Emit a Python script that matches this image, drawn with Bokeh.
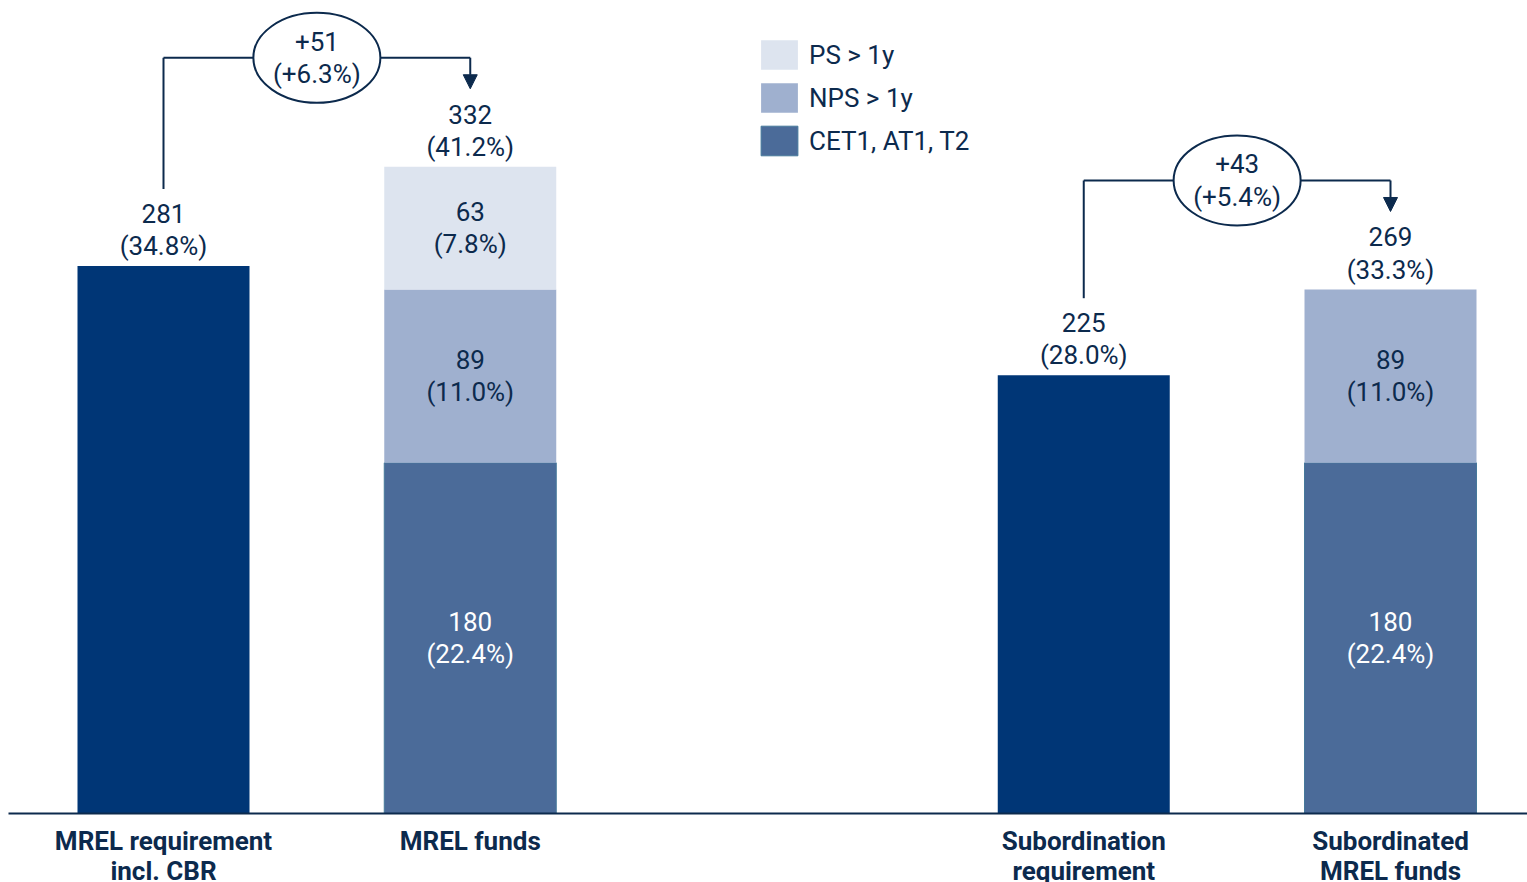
from bokeh.plotting import figure
from bokeh.models import ColumnDataSource, Range1d, Legend, LegendItem, Arrow, NormalHead
from bokeh.core.properties import value
from bokeh.embed import file_html
from bokeh.resources import INLINE

# ---------------- data ----------------
categories = ["MREL requirement\nincl. CBR", "MREL funds",
              "Subordination\nrequirement", "Subordinated\nMREL funds"]
req_values = [281, 225]
req_share = ["34.8%", "28.0%"]
cet1 = [180, 180]
cet1_share = ["22.4%", "22.4%"]
nps = [89, 89]
nps_share = ["11.0%", "11.0%"]
ps = [63, 0]
ps_share = ["7.8%", ""]
fund_share = ["41.2%", "33.3%"]
delta = ["+51", "+43"]
delta_share = ["+6.3%", "+5.4%"]
series_names = ["PS > 1y", "NPS > 1y", "CET1, AT1, T2"]

# ---------------- layout / style ----------------
W, H = 1527, 882
PX_PER_UNIT = 1.948
U = 1.0 / PX_PER_UNIT
BASE_PX = 813
SLOT_PX = 306.75
FIRST_CENTER_PX = 163
BW = 172 / SLOT_PX
x_req = [0, 3]
x_fund = [1, 4]
x_cat = [0, 1, 3, 4]
X0 = -FIRST_CENTER_PX / SLOT_PX
X1 = (W - FIRST_CENTER_PX) / SLOT_PX

NAVY = "#0c2a4d"
REQ_C = "#003676"
CET1_C = "#4b6b99"
NPS_C = "#9fb0cf"
PS_C = "#dde4ef"
FONT = value("Roboto")
FS = "26px"

p = figure(width=W, height=H,
           x_range=Range1d(X0, X1),
           y_range=Range1d(-(H - BASE_PX) * U, BASE_PX * U),
           output_backend="svg", toolbar_location=None,
           x_axis_location=None, y_axis_location=None,
           min_border=0, outline_line_color=None)
p.grid.visible = False

# bars
p.vbar(x=x_req, top=req_values, width=BW, fill_color=REQ_C, line_color=None)
nps_top = [a + b for a, b in zip(cet1, nps)]
ps_top = [a + b for a, b in zip(nps_top, ps)]
r_cet1 = p.vbar(x=x_fund, bottom=0, top=cet1, width=BW, fill_color=CET1_C,
                line_color="#46799b", line_width=1)
r_nps = p.vbar(x=x_fund, bottom=cet1, top=nps_top, width=BW, fill_color=NPS_C, line_color=None)
r_ps = p.vbar(x=x_fund, bottom=nps_top, top=ps_top, width=BW, fill_color=PS_C, line_color=None)

# baseline
p.segment(x0=[X0 + 8 / SLOT_PX], y0=[0], x1=[X1], y1=[0], line_color=NAVY, line_width=2)

txt = dict(text_font=FONT, text_font_size=FS, text_align="center",
           text_baseline="middle", text_line_height=1.08)

# total labels above bars
top_x = x_req + x_fund
top_vals = req_values + ps_top
top_share = req_share + fund_share
p.text(x=top_x, y=[v + 36 * U for v in top_vals],
       text=[f"{v}\n({s})" for v, s in zip(top_vals, top_share)],
       text_color=NAVY, **txt)

# segment labels
seg_x, seg_y, seg_t, seg_c = [], [], [], []
for i, x in enumerate(x_fund):
    segs = [(0, cet1[i], cet1_share[i], "white"),
            (cet1[i], nps_top[i], nps_share[i], NAVY),
            (nps_top[i], ps_top[i], ps_share[i], NAVY)]
    for b, t, s, c in segs:
        if t - b > 0:
            seg_x.append(x)
            seg_y.append((b + t) / 2)
            seg_t.append(f"{t - b}\n({s})")
            seg_c.append(c)
p.text(x=seg_x, y=seg_y, text=seg_t, text_color=seg_c, **txt)

# category labels
p.text(x=x_cat, y=[-12 * U] * 4, text=categories, text_font=FONT, text_font_size="26px",
       text_font_style="bold", text_align="center", text_baseline="top",
       text_line_height=1.03, text_color=NAVY)

# brackets
bracket_y = [max(r, f) + 109 * U for r, f in zip(req_values, ps_top)]
p.segment(x0=x_req, y0=[v + 77 * U for v in req_values], x1=x_req, y1=bracket_y,
          line_color=NAVY, line_width=2)
p.segment(x0=x_req, y0=bracket_y, x1=x_fund, y1=bracket_y, line_color=NAVY, line_width=2)
arrow_src = ColumnDataSource(dict(xs=x_fund, ys=bracket_y, xe=x_fund,
                                  ye=[v + 78 * U for v in ps_top]))
p.add_layout(Arrow(end=NormalHead(size=14, fill_color=NAVY, line_color=NAVY),
                   x_start="xs", y_start="ys", x_end="xe", y_end="ye",
                   source=arrow_src, line_color=NAVY, line_width=2))
mid_x = [(a + b) / 2 for a, b in zip(x_req, x_fund)]
p.ellipse(x=mid_x, y=bracket_y, width=127, height=90, width_units="screen",
          height_units="screen", fill_color="white", line_color=NAVY, line_width=2)
p.text(x=mid_x, y=bracket_y, text=[f"{d}\n({s})" for d, s in zip(delta, delta_share)],
       text_color=NAVY, **txt)

# legend
legend = Legend(items=[LegendItem(label=series_names[0], renderers=[r_ps]),
                       LegendItem(label=series_names[1], renderers=[r_nps]),
                       LegendItem(label=series_names[2], renderers=[r_cet1])],
                location=(756, 723), orientation="vertical",
                glyph_width=46, glyph_height=37, label_height=37, spacing=6,
                padding=0, margin=0, label_standoff=7,
                border_line_color=None, background_fill_alpha=0,
                label_text_font="Roboto", label_text_font_size=FS,
                label_text_color=NAVY)
p.add_layout(legend)

open("out.html", "w").write(file_html(p, INLINE))
